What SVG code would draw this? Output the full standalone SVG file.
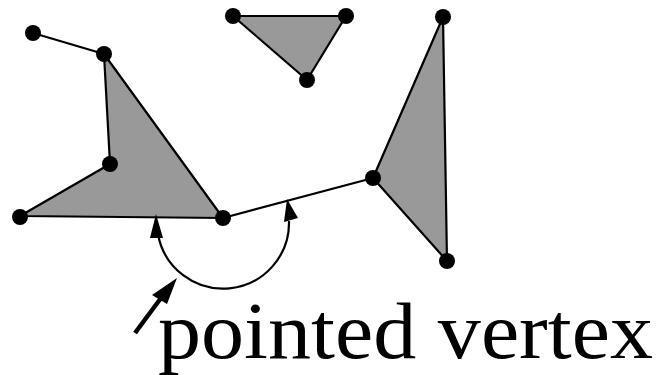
<svg xmlns="http://www.w3.org/2000/svg" width="667" height="375" viewBox="0 0 667 375">
<style>
.poly{fill:#999999;stroke:#000;stroke-width:2.2;stroke-linejoin:round}
.edge{fill:none;stroke:#000;stroke-width:2.2}
.dot{fill:#000}
.head{fill:#000;stroke:none}
.lbl{font-family:"Liberation Serif","DejaVu Serif",serif;font-size:80px;fill:#000}
</style>
<rect width="667" height="375" fill="#fff"/>
<g id="shape-left">
<polygon class="poly" points="104,54 223,218 20,216 110,164"/>
</g>
<g id="shape-top">
<polygon class="poly" points="233,16 346,16 307,80"/>
</g>
<g id="shape-right">
<polygon class="poly" points="373,178 443,17 447,261"/>
</g>
<g id="connectors">
<line class="edge" x1="33" y1="33" x2="104" y2="54"/>
<line class="edge" x1="223" y1="218" x2="373" y2="178"/>
<path class="edge" d="M158,234 A66,66 0 0 0 289,221"/>
<polygon class="head" points="156,214 150,238 163,238"/>
<polygon class="head" points="287,199 284,222 298,218"/>
<line stroke="#000" stroke-width="4.5" x1="135" y1="333" x2="161" y2="298"/>
<polygon class="head" points="177,278 152,295 167,304"/>
</g>
<g id="vertices">
<circle class="dot" cx="33" cy="33" r="8"/>
<circle class="dot" cx="104" cy="54" r="8"/>
<circle class="dot" cx="110" cy="164" r="8"/>
<circle class="dot" cx="20" cy="217" r="8"/>
<circle class="dot" cx="223" cy="218" r="8"/>
<circle class="dot" cx="373" cy="178" r="8"/>
<circle class="dot" cx="443" cy="17" r="8"/>
<circle class="dot" cx="447" cy="261" r="8"/>
<circle class="dot" cx="233" cy="16" r="8"/>
<circle class="dot" cx="346" cy="16" r="8"/>
<circle class="dot" cx="307" cy="80" r="8"/>
</g>
<g id="label">
<text class="lbl" x="158" y="358" textLength="495" lengthAdjust="spacingAndGlyphs">pointed vertex</text>
</g>
</svg>
